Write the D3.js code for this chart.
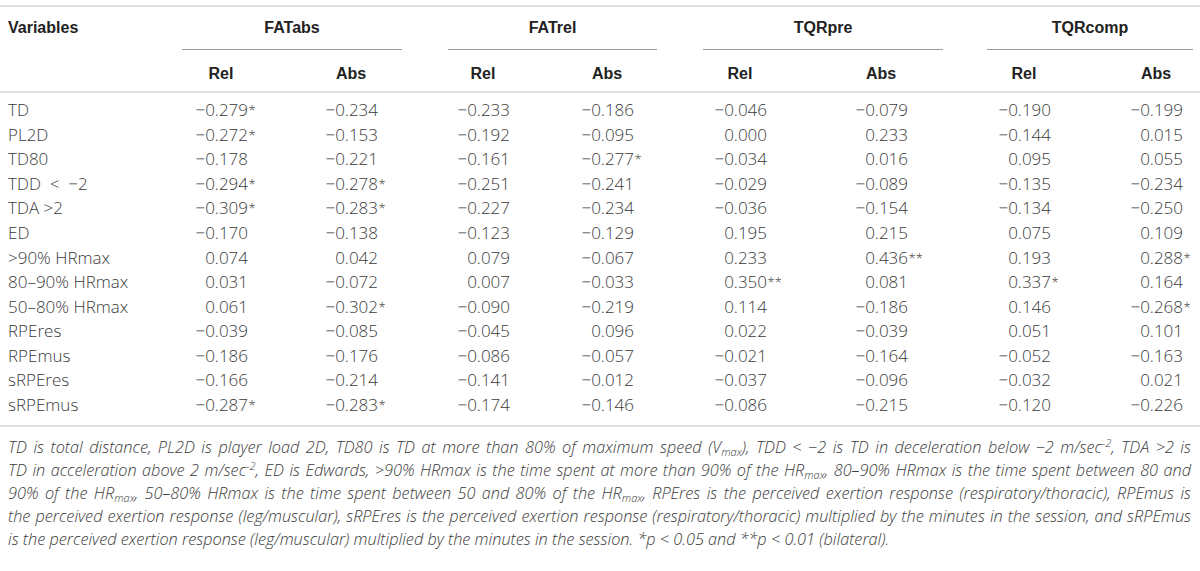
<!DOCTYPE html>
<html>
<head>
<meta charset="utf-8">
<script src="https://cdn.jsdelivr.net/npm/d3@7"></script>
<style>
  body { margin: 0; background: #fff; }
  svg { display: block; }
</style>
</head>
<body>
<div id="table"></div>
<script>
const width = 1200;
const height = 571;

// row labels and column headers
const variables = ["TD", "PL2D", "TD80", "TDD < \u22122", "TDA >2", "ED", ">90% HRmax", "80\u201390% HRmax",
  "50\u201380% HRmax", "RPEres", "RPEmus", "sRPEres", "sRPEmus"];
const groups = ["FATabs", "FATrel", "TQRpre", "TQRcomp"];
const subHeaders = ["Rel", "Abs"];

// correlation values per column (stars = significance)
const fatAbsRel  = ["-0.279*", "-0.272*", "-0.178", "-0.294*", "-0.309*", "-0.170", "0.074", "0.031", "0.061", "-0.039", "-0.186", "-0.166", "-0.287*"];
const fatAbsAbs  = ["-0.234", "-0.153", "-0.221", "-0.278*", "-0.283*", "-0.138", "0.042", "-0.072", "-0.302*", "-0.085", "-0.176", "-0.214", "-0.283*"];
const fatRelRel  = ["-0.233", "-0.192", "-0.161", "-0.251", "-0.227", "-0.123", "0.079", "0.007", "-0.090", "-0.045", "-0.086", "-0.141", "-0.174"];
const fatRelAbs  = ["-0.186", "-0.095", "-0.277*", "-0.241", "-0.234", "-0.129", "-0.067", "-0.033", "-0.219", "0.096", "-0.057", "-0.012", "-0.146"];
const tqrPreRel  = ["-0.046", "0.000", "-0.034", "-0.029", "-0.036", "0.195", "0.233", "0.350**", "0.114", "0.022", "-0.021", "-0.037", "-0.086"];
const tqrPreAbs  = ["-0.079", "0.233", "0.016", "-0.089", "-0.154", "0.215", "0.436**", "0.081", "-0.186", "-0.039", "-0.164", "-0.096", "-0.215"];
const tqrCompRel = ["-0.190", "-0.144", "0.095", "-0.135", "-0.134", "0.075", "0.193", "0.337*", "0.146", "0.051", "-0.052", "-0.032", "-0.120"];
const tqrCompAbs = ["-0.199", "0.015", "0.055", "-0.234", "-0.250", "0.109", "0.288*", "0.164", "-0.268*", "0.101", "-0.163", "0.021", "-0.226"];

const columns = [fatAbsRel, fatAbsAbs, fatRelRel, fatRelAbs, tqrPreRel, tqrPreAbs, tqrCompRel, tqrCompAbs];

// footnote, split in lines as printed; [text, "sub"/"sup"/""]
const footLines = [
  [["TD is total distance, PL2D is player load 2D, TD80 is TD at more than 80% of maximum speed (V", ""], ["max", "sub"],
   ["), TDD < \u22122 is TD in deceleration below \u22122 m/sec", ""], ["-2", "sup"], [", TDA >2 is", ""]],
  [["TD in acceleration above 2 m/sec", ""], ["-2", "sup"], [", ED is Edwards, >90% HRmax is the time spent at more than 90% of the HR", ""],
   ["max", "sub"], [", 80\u201390% HRmax is the time spent between 80 and", ""]],
  [["90% of the HR", ""], ["max", "sub"], [", 50\u201380% HRmax is the time spent between 50 and 80% of the HR", ""], ["max", "sub"],
   [", RPEres is the perceived exertion response (respiratory/thoracic), RPEmus is", ""]],
  [["the perceived exertion response (leg/muscular), sRPEres is the perceived exertion response (respiratory/thoracic) multiplied by the minutes in the session, and sRPEmus", ""]],
  [["is the perceived exertion response (leg/muscular) multiplied by the minutes in the session. *p < 0.05 and **p < 0.01 (bilateral).", ""]]
];

const bodyFont = "'Open Sans', Roboto, 'Liberation Sans', sans-serif";
const headFont = "'Liberation Sans', Arial, sans-serif";
const textColor = "#3a3a3a";
const ruleColor = "#d6d6d6";
const fmt = d3.format(".3f");

const svg = d3.select("#table").append("svg")
    .attr("width", width)
    .attr("height", height);

svg.append("rect").attr("width", width).attr("height", height).attr("fill", "#fff");

// right edge of each number column
const colX = d3.scaleOrdinal()
    .domain(d3.range(columns.length))
    .range([248, 378, 510, 634, 767, 908, 1051, 1183]);

// rows
const y = d3.scalePoint()
    .domain(variables)
    .range([116, 411]);

const groupSpan = [[182, 402], [448, 657], [703, 943], [987, 1193]];

// horizontal rules
[6, 92, 426].forEach(yy => {
  svg.append("line")
      .attr("x1", 0).attr("x2", width)
      .attr("y1", yy).attr("y2", yy)
      .attr("stroke", ruleColor).attr("stroke-width", 1.6);
});

svg.append("text")
    .attr("x", 8).attr("y", 33)
    .attr("font-family", headFont).attr("font-weight", 700).attr("font-size", 16)
    .attr("fill", "#222")
    .text("Variables");

const g = svg.selectAll(".group")
    .data(groups)
    .enter()
    .append("g")
    .attr("class", "group");

g.append("line")
    .attr("x1", (d, i) => groupSpan[i][0])
    .attr("x2", (d, i) => groupSpan[i][1])
    .attr("y1", 49.5).attr("y2", 49.5)
    .attr("stroke", "#9a9a9a").attr("stroke-width", 1);

g.append("text")
    .attr("x", (d, i) => (groupSpan[i][0] + groupSpan[i][1]) / 2)
    .attr("y", 33)
    .attr("text-anchor", "middle")
    .attr("font-family", headFont).attr("font-weight", 700).attr("font-size", 16)
    .attr("fill", "#222")
    .text(d => d);

// Rel / Abs headers, centred over the numbers
svg.selectAll(".sub")
    .data(columns.map((c, i) => i))
    .enter()
    .append("text")
    .attr("class", "sub")
    .attr("x", i => colX(i) - 27)
    .attr("y", 79)
    .attr("text-anchor", "middle")
    .attr("font-family", headFont).attr("font-weight", 700).attr("font-size", 16)
    .attr("fill", "#222")
    .text(i => subHeaders[i % 2]);

// row labels
svg.selectAll(".rowLabel")
    .data(variables)
    .enter()
    .append("text")
    .attr("class", "rowLabel")
    .attr("x", 8)
    .attr("y", d => y(d))
    .attr("font-family", bodyFont).attr("font-weight", 300).attr("font-size", 17)
    .attr("fill", textColor)
    .attr("xml:space", "preserve")
    .text(d => d.replace(" < ", "  <  "));

// cells
const cells = [];
columns.forEach((col, ci) => col.forEach((v, ri) => {
  cells.push({ci, row: variables[ri], value: parseFloat(v), stars: (v.match(/\*+/) || [""])[0]});
}));

const cell = svg.selectAll(".cell")
    .data(cells)
    .enter()
    .append("g")
    .attr("class", "cell");

cell.append("text")
    .attr("x", d => colX(d.ci))
    .attr("y", d => y(d.row))
    .attr("text-anchor", "end")
    .attr("font-family", bodyFont).attr("font-weight", 300).attr("font-size", 17)
    .attr("fill", textColor)
    .text(d => fmt(d.value));

cell.filter(d => d.stars)
  .append("text")
    .attr("x", d => colX(d.ci) + 0.5)
    .attr("y", d => y(d.row) - 1)
    .attr("font-family", bodyFont).attr("font-weight", 300).attr("font-size", 13)
    .attr("fill", textColor)
    .text(d => d.stars);

// footnote
const foot = svg.selectAll(".foot")
    .data(footLines)
    .enter()
    .append("text")
    .attr("class", "foot")
    .attr("x", 8)
    .attr("y", (d, i) => 453 + i * 23)
    .attr("font-family", bodyFont).attr("font-weight", 300).attr("font-style", "italic")
    .attr("font-size", 16.3)
    .attr("fill", textColor);

foot.each(function(parts) {
  const t = d3.select(this);
  let prevKind = "";
  parts.forEach(([s, kind]) => {
    const sp = t.append("tspan").text(s);
    if (kind === "sub") sp.attr("font-size", 11).attr("dy", 3);
    if (kind === "sup") sp.attr("font-size", 11).attr("dy", -6);
    // return to baseline after a shifted piece
    if (kind === "" && prevKind === "sub") sp.attr("dy", -3);
    if (kind === "" && prevKind === "sup") sp.attr("dy", 6);
    prevKind = kind;
  });
});

// justify all but the last footnote line
foot.filter((d, i) => i < footLines.length - 1).each(function() {
  const len = this.getComputedTextLength();
  const spaces = (this.textContent.match(/ /g) || []).length;
  const target = 1191 - 8;
  d3.select(this).attr("word-spacing", (target - len) / spaces);
});
</script>
</body>
</html>
